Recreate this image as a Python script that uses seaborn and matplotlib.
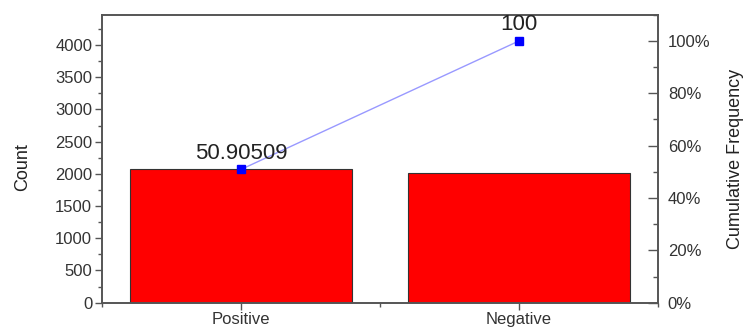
import matplotlib
matplotlib.use("Agg")
from matplotlib import pyplot as plt
from matplotlib.ticker import MultipleLocator, PercentFormatter
import numpy as np
import pandas as pd
import seaborn as sns

# Data
categories = ["Positive", "Negative"]
counts = [2081, 2007]
cum_freq = [50.90509, 100]
cum_labels = ["50.90509", "100"]

sns.set_style("ticks")
plt.rcParams['font.family'] = ['Liberation Sans', 'DejaVu Sans']

df = pd.DataFrame({"Category": categories, "Count": counts, "Cum": cum_freq})

fig = plt.figure(figsize=(7.47, 3.27), dpi=100)
ax = fig.add_axes([0.1365, 0.0743, 0.7445, 0.8807])

sns.barplot(data=df, x="Category", y="Count", color="#ff0000", saturation=1,
            width=0.8, edgecolor="#333333", linewidth=0.8, ax=ax)
ax.set_xlim(-0.5, 1.5)
ax.set_ylim(0, 4470)
ax.set_xlabel("")
ax.set_ylabel("Count", fontsize=13, color="#222222")
ax.yaxis.set_label_coords(-0.128, 0.47)
ax.yaxis.set_major_locator(MultipleLocator(500))
ax.yaxis.set_minor_locator(MultipleLocator(250))
ax.xaxis.set_minor_locator(MultipleLocator(0.5))
ax.tick_params(axis="both", which="major", direction="out", length=5, width=1.0,
               labelsize=12, labelcolor="#333333", color="#555555", pad=2)
ax.tick_params(axis="both", which="minor", direction="out", length=3, width=1.0,
               color="#555555")
for s in ax.spines.values():
    s.set_visible(True)
    s.set_color("#555555")
    s.set_linewidth(1.2)

ax2 = ax.twinx()
ax2.plot(np.arange(len(categories)), df["Cum"], color="#9999ff", linewidth=1.0,
         marker="s", markersize=6, markerfacecolor="#0000ff", markeredgecolor="#0000ff")
for i, (v, lab) in enumerate(zip(cum_freq, cum_labels)):
    ax2.annotate(lab, (i, v), xytext=(0, 4), textcoords="offset points",
                 ha="center", va="bottom", fontsize=16, color="#222222")
ax2.set_ylim(0, 110)
ax2.set_xlim(-0.5, 1.5)
ax2.yaxis.set_major_locator(MultipleLocator(20))
ax2.yaxis.set_minor_locator(MultipleLocator(10))
ax2.yaxis.set_major_formatter(PercentFormatter(decimals=0))
ax2.set_ylabel("Cumulative Frequency", fontsize=13, color="#222222")
ax2.yaxis.set_label_coords(1.124, 0.5)
ax2.tick_params(axis="y", which="major", direction="in", length=7, width=1.0,
                labelsize=12, labelcolor="#333333", color="#555555", pad=7)
ax2.tick_params(axis="y", which="minor", direction="in", length=3.5, width=1.0,
                color="#555555")
for s in ax2.spines.values():
    s.set_color("#555555")
    s.set_linewidth(1.2)

fig.savefig("out.png", dpi=100)
